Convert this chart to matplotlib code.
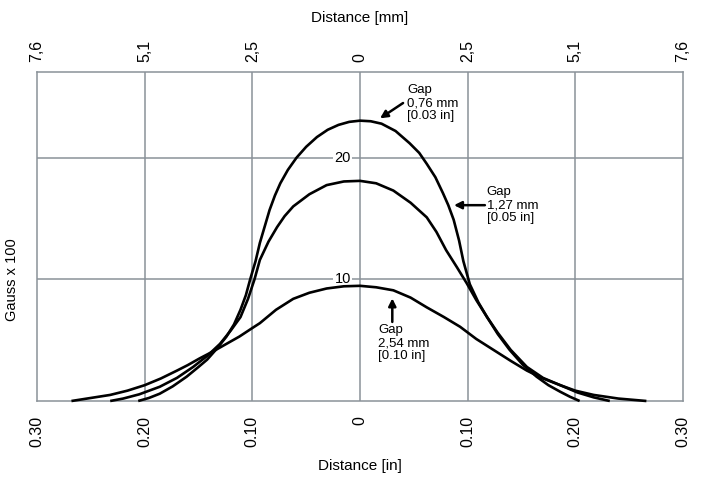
import matplotlib
matplotlib.use('Agg')
import matplotlib.pyplot as plt

plt.rcParams['font.family'] = ['Liberation Sans', 'DejaVu Sans']

# ticks (inch positions) and labels
in_ticks = [-0.30, -0.20, -0.10, 0.0, 0.10, 0.20, 0.30]
in_labels = ['0.30', '0.20', '0.10', '0', '0.10', '0.20', '0.30']
mm_labels = ['7,6', '5,1', '2,5', '0', '2,5', '5,1', '7,6']
gauss_ticks = [10, 20]

# gap 0,76 mm curve (x in inches, y in gauss x 100)
x_076 = [-0.206, -0.196, -0.186, -0.174, -0.161, -0.150, -0.142, -0.133, -0.124,
         -0.117, -0.111, -0.106, -0.102, -0.097, -0.093, -0.088, -0.084, -0.079,
         -0.074, -0.067, -0.059, -0.050, -0.040, -0.030, -0.020, -0.010, 0.000,
         0.010, 0.020, 0.033, 0.046, 0.055, 0.062, 0.070, 0.077, 0.082, 0.087,
         0.092, 0.096, 0.102, 0.110, 0.118, 0.128, 0.139, 0.151, 0.164, 0.175,
         0.186, 0.195, 0.204]
y_076 = [0.0, 0.25, 0.6, 1.2, 2.0, 2.8, 3.4, 4.3, 5.3,
         6.3, 7.5, 8.7, 10.0, 11.5, 13.0, 14.5, 15.7, 16.9,
         17.9, 19.0, 20.0, 20.9, 21.7, 22.3, 22.7, 22.95, 23.05,
         23.0, 22.8, 22.2, 21.2, 20.4, 19.5, 18.4, 17.1, 16.1, 14.9,
         13.2, 11.5, 9.6, 8.1, 6.9, 5.5, 4.2, 3.0, 2.0, 1.3,
         0.76, 0.35, 0.0]

# gap 1,27 mm
x_127 = [-0.232, -0.220, -0.205, -0.186, -0.170, -0.155, -0.142, -0.130, -0.120,
         -0.111, -0.104, -0.098, -0.093, -0.085, -0.077, -0.070, -0.062, -0.047,
         -0.031, -0.015, 0.000, 0.015, 0.031, 0.047, 0.062, 0.071, 0.080, 0.090,
         0.099, 0.108, 0.118, 0.128, 0.140, 0.155, 0.170, 0.186, 0.202, 0.217, 0.232]
y_127 = [0.0, 0.2, 0.55, 1.17, 1.9, 2.8, 3.7, 4.7, 5.8,
         6.9, 8.4, 10.0, 11.6, 13.1, 14.3, 15.2, 16.0, 17.0,
         17.75, 18.05, 18.1, 17.9, 17.3, 16.3, 15.1, 13.9, 12.4, 11.0,
         9.7, 8.3, 6.9, 5.6, 4.2, 2.8, 1.9, 1.3, 0.7, 0.3, 0.0]

# gap 2,54 mm
x_254 = [-0.268, -0.250, -0.232, -0.216, -0.200, -0.185, -0.170, -0.160, -0.149,
         -0.136, -0.124, -0.112, -0.100, -0.093, -0.078, -0.062, -0.047, -0.031,
         -0.015, 0.000, 0.015, 0.031, 0.047, 0.062, 0.078, 0.093, 0.108, 0.124,
         0.140, 0.155, 0.170, 0.186, 0.200, 0.217, 0.240, 0.266]
y_254 = [0.0, 0.25, 0.5, 0.85, 1.3, 1.85, 2.5, 2.95, 3.5,
         4.1, 4.7, 5.3, 6.0, 6.4, 7.5, 8.4, 8.9, 9.25,
         9.43, 9.47, 9.35, 9.1, 8.5, 7.7, 6.9, 6.1, 5.1, 4.2,
         3.3, 2.5, 1.85, 1.3, 0.85, 0.5, 0.2, 0.0]

grid_col = '#8a9299'

fig = plt.figure(figsize=(7.06, 4.8), dpi=100)
ax = fig.add_axes([37 / 706, 1 - 401 / 480, 646 / 706, 329 / 480])
ax.set_xlim(-0.30, 0.30)
ax.set_ylim(0, 27.05)

for v in in_ticks[1:-1]:
    ax.axvline(v, color=grid_col, lw=1.1, zorder=1)
for g in gauss_ticks:
    ax.axhline(g, color=grid_col, lw=1.1, zorder=1)
    ax.text(-0.016, g, str(g), ha='center', va='center', fontsize=10.5, zorder=2,
            bbox=dict(facecolor='white', edgecolor='none', pad=1.0))

for xs, ys in [(x_076, y_076), (x_127, y_127), (x_254, y_254)]:
    ax.plot(xs, ys, color='black', lw=1.9, solid_joinstyle='round',
            solid_capstyle='butt', zorder=3, clip_on=False)

for s in ax.spines.values():
    s.set_color(grid_col)
    s.set_linewidth(1.1)

ax.set_xticks(in_ticks)
ax.set_xticklabels(in_labels, rotation=90, fontsize=11.5)
ax.tick_params(axis='x', length=0, pad=11)
ax.set_yticks([])

top = ax.twiny()
top.set_xlim(ax.get_xlim())
top.set_xticks(in_ticks)
top.set_xticklabels(mm_labels, rotation=90, fontsize=11.5)
top.tick_params(axis='x', length=0, pad=7)
for s in top.spines.values():
    s.set_visible(False)

fig.text(360 / 706, 1 - 466 / 480, 'Distance [in]', ha='center', va='center', fontsize=11)
fig.text(360 / 706, 1 - 18 / 480, 'Distance [mm]', ha='center', va='center', fontsize=11)
fig.text(12 / 706, 1 - 280 / 480, 'Gauss x 100', ha='center', va='center',
         rotation=90, fontsize=10.5)

# annotations
arrow = dict(arrowstyle='-|>', color='black', lw=1.8, mutation_scale=11,
             shrinkA=0, shrinkB=0)
ax.annotate('', xy=(0.0186, 23.24), xytext=(0.040, 24.5), arrowprops=arrow)
ax.text(0.044, 24.5, 'Gap\n0,76 mm\n[0.03 in]', ha='left', va='center',
        fontsize=9.5, linespacing=1.1)
ax.annotate('', xy=(0.0873, 16.1), xytext=(0.116, 16.1), arrowprops=arrow)
ax.text(0.1176, 16.1, 'Gap\n1,27 mm\n[0.05 in]', ha='left', va='center',
        fontsize=9.5, linespacing=1.1)
ax.annotate('', xy=(0.030, 8.44), xytext=(0.030, 6.5), arrowprops=arrow)
ax.text(0.0167, 4.76, 'Gap\n2,54 mm\n[0.10 in]', ha='left', va='center',
        fontsize=9.5, linespacing=1.1)

fig.savefig('out.png', dpi=100)
